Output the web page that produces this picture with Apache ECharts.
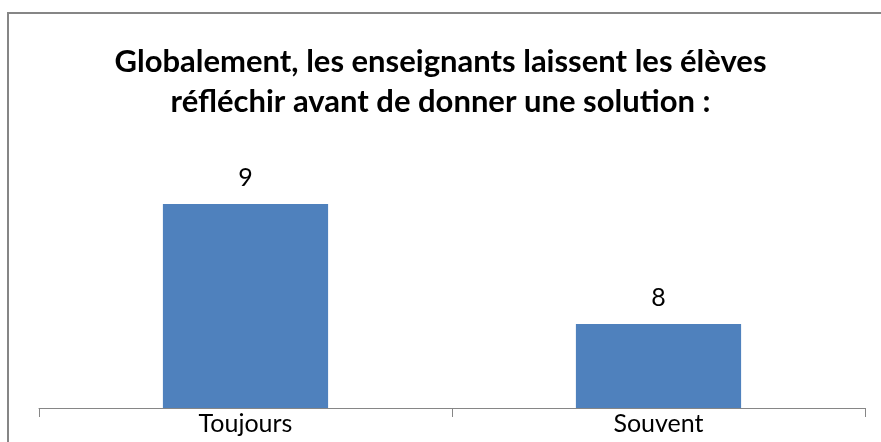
<!DOCTYPE html>
<html>
<head>
<meta charset="utf-8">
<script src="https://cdn.jsdelivr.net/npm/echarts@6/dist/echarts.min.js"></script>
<style>
	html, body { margin: 0; padding: 0; background: #fff; }
	#chart { width: 881px; height: 442px; }
</style>
</head>
<body>
<div id="chart"></div>
<script>
	// données
	var categories = ['Toujours', 'Souvent'];
	var values = [9, 8];
	var titleLines = ['Globalement, les enseignants laissent les élèves', 'réfléchir avant de donner une solution :'];

	var myChart = echarts.init(document.getElementById('chart'));
	myChart.setOption({
		animation: false,
		backgroundColor: '#fff',
		title: {
			text: titleLines.join('\n'),
			left: 'center',
			top: 37,
			textStyle: {
				fontFamily: 'Lato',
				fontWeight: 'bold',
				fontSize: 31,
				lineHeight: 40,
				color: '#000'
			}
		},
		graphic: [{
			type: 'rect',
			shape: { x: 8, y: 13, width: 900, height: 460 },
			style: { fill: 'none', stroke: '#868686', lineWidth: 2 },
			silent: true
		}],
		grid: {
			top: 180,
			bottom: 34,
			left: 39,
			right: 16
		},
		xAxis: {
			type: 'category',
			data: categories,
			axisLine: {
				lineStyle: { color: '#868686', width: 1 }
			},
			axisTick: {
				show: true,
				length: 9,
				lineStyle: { color: '#868686' }
			},
			axisLabel: {
				color: '#000',
				fontFamily: 'Lato',
				fontSize: 25,
				margin: 3
			}
		},
		yAxis: {
			type: 'value',
			min: 7.3,
			max: 9.2,
			show: false,
			splitLine: { show: false }
		},
		series: [{
			type: 'bar',
			data: values,
			barWidth: '40%',
			itemStyle: {
				color: '#4f81bd'
			},
			label: {
				show: true,
				position: 'top',
				distance: 14,
				color: '#000',
				fontFamily: 'Lato',
				fontSize: 25
			}
		}]
	});
</script>
</body>
</html>
